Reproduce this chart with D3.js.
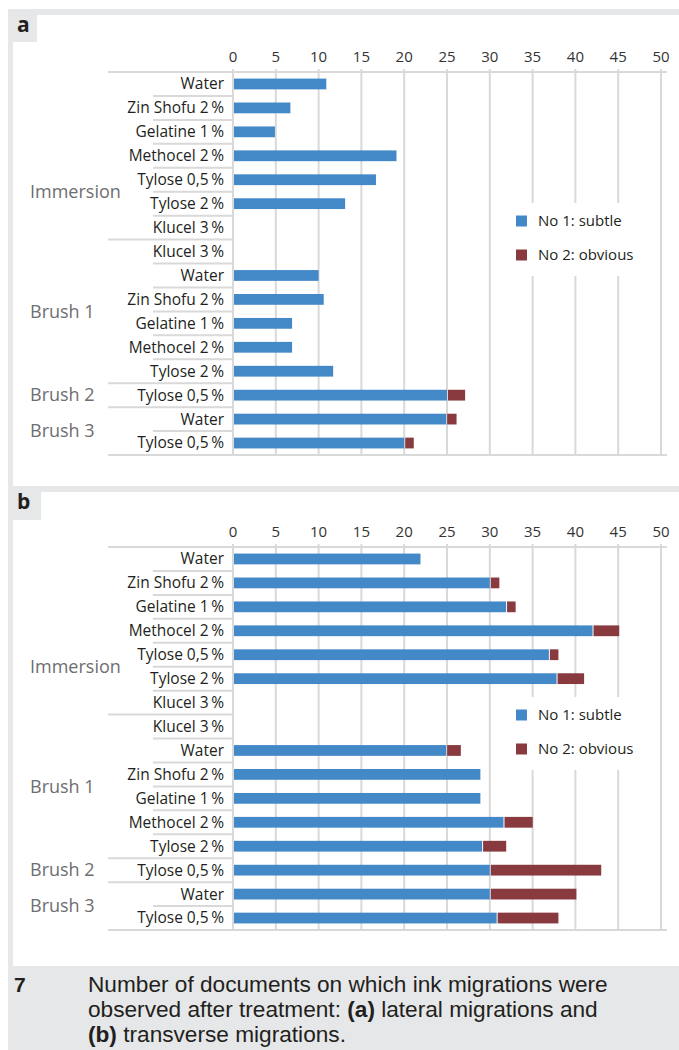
<!DOCTYPE html>
<html>
<head>
<meta charset="utf-8">
<script src="https://cdn.jsdelivr.net/npm/d3@7"></script>
<style>
  body { margin: 0; background: #fff; }
  svg { display: block; }
  text { font-family: "Open Sans", "Noto Sans", sans-serif; }
</style>
</head>
<body>
<div id="chart"></div>
<script>
const categories = [
  "Water", "Zin Shofu 2\u2009%", "Gelatine 1\u2009%", "Methocel 2\u2009%", "Tylose 0,5\u2009%",
  "Tylose 2\u2009%", "Klucel 3\u2009%",
  "Klucel 3\u2009%", "Water", "Zin Shofu 2\u2009%", "Gelatine 1\u2009%", "Methocel 2\u2009%", "Tylose 2\u2009%",
  "Tylose 0,5\u2009%",
  "Water", "Tylose 0,5\u2009%"
];
const groupNames = ["Immersion", "Brush 1", "Brush 2", "Brush 3"];
const groupSizes = [7, 6, 1, 2];
// row position of each group label (in rows from the top)
const groupLabelRows = [5, 10, 13.5, 15];

const seriesNames = ["No 1: subtle", "No 2: obvious"];

// (a) lateral migrations
const lateralSubtle  = [10.9, 6.7, 4.9, 19.1, 16.7, 13.1, 0, 0, 10, 10.6, 6.9, 6.9, 11.7, 25, 24.9, 20];
const lateralObvious = [0, 0, 0, 0, 0, 0, 0, 0, 0, 0, 0, 0, 0, 2, 1.1, 1];

// (b) transverse migrations
const transverseSubtle  = [21.9, 30, 31.9, 42, 36.9, 37.8, 0, 0, 24.9, 28.9, 28.9, 31.6, 29.1, 30, 30, 30.8];
const transverseObvious = [0, 1, 1, 3, 1, 3.1, 0, 0, 1.6, 0, 0, 3.3, 2.7, 12.9, 10, 7.1];

const xTicks = d3.range(0, 55, 5);

const W = 679, H = 1050;
const colors = ["#4389c8", "#893a3f"];
const gridColor = "#d9d9d9";
const frameGray = "#e6e7e8";

const svg = d3.select("#chart").append("svg")
  .attr("width", W).attr("height", H);

// frame
svg.append("rect").attr("x", 8).attr("y", 9).attr("width", W - 8).attr("height", H - 9)
  .attr("fill", frameGray);
svg.append("rect").attr("x", 13).attr("y", 15).attr("width", W - 13).attr("height", 471)
  .attr("fill", "#fff");
svg.append("rect").attr("x", 13).attr("y", 492).attr("width", W - 13).attr("height", 474)
  .attr("fill", "#fff");

const x = d3.scaleLinear().domain([0, 50]).range([233, 661]);

// group boundaries (row indexes where a new group starts)
const groupStarts = d3.cumsum([0].concat(groupSizes.slice(0, -1)));

function drawPanel(opts) {
  const { top, subtle, obvious, letter, tab, legendTop } = opts;
  const y = d3.scaleBand()
    .domain(d3.range(categories.length))
    .range([top, top + 383])
    .padding(0);
  const step = y.step();
  const bottom = top + 383;
  const g = svg.append("g");

  // letter tab
  g.append("rect").attr("x", 13).attr("y", tab.y).attr("width", tab.w).attr("height", tab.h)
    .attr("fill", frameGray);
  g.append("text").attr("x", 17).attr("y", tab.y + 17)
    .attr("font-size", 21).attr("font-weight", 700).attr("fill", "#231f20")
    .text(letter);

  // vertical gridlines
  g.append("g").selectAll("line").data(xTicks).join("line")
    .attr("x1", d => x(d)).attr("x2", d => x(d))
    .attr("y1", top - 3).attr("y2", bottom)
    .attr("stroke", gridColor).attr("stroke-width", 2);

  // tick labels
  g.append("g").selectAll("text").data(xTicks).join("text")
    .attr("x", d => x(d)).attr("y", top - 10)
    .attr("text-anchor", "middle")
    .attr("font-size", 15).attr("fill", "#333")
    .text(d => d);

  // top and bottom lines
  g.append("g").selectAll("line").data([top, bottom]).join("line")
    .attr("x1", 108).attr("x2", 667)
    .attr("y1", d => d).attr("y2", d => d)
    .attr("stroke", gridColor).attr("stroke-width", 2);

  // row separators in the label column
  const seps = d3.range(1, categories.length);
  g.append("g").selectAll("line").data(seps).join("line")
    .attr("x1", d => groupStarts.includes(d) ? 108 : 153).attr("x2", 232)
    .attr("y1", d => y(d)).attr("y2", d => y(d))
    .attr("stroke", gridColor).attr("stroke-width", 2);

  // category labels
  g.append("g").selectAll("text").data(categories).join("text")
    .attr("x", 224).attr("y", (d, i) => y(i) + step / 2)
    .attr("dy", "0.35em")
    .attr("text-anchor", "end")
    .attr("font-size", 15.5).attr("fill", "#231f20")
    .text(d => d);

  // group labels
  g.append("g").selectAll("text").data(groupNames).join("text")
    .attr("x", 30).attr("y", (d, i) => top + groupLabelRows[i] * step)
    .attr("dy", "0.35em")
    .attr("font-size", 18).attr("fill", "#6d6e71")
    .text(d => d);

  // stacked bars
  const rows = categories.map((c, i) => ({ i, s: subtle[i], o: obvious[i] }));
  const stack = d3.stack().keys(["s", "o"])(rows);
  const barH = step * 0.45;
  g.append("g").selectAll("g").data(stack).join("g")
    .attr("fill", (d, k) => colors[k])
    .selectAll("rect").data(d => d).join("rect")
    .attr("x", d => x(d[0]) + 1)
    .attr("width", d => Math.max(0, x(d[1]) - x(d[0]) - (d[0] === 0 ? 1 : 0)))
    .attr("y", d => y(d.data.i) + (step - barH) / 2)
    .attr("height", barH);

  // legend
  const lg = g.append("g");
  lg.append("rect").attr("x", 500).attr("y", legendTop).attr("width", 150).attr("height", 73)
    .attr("fill", "#fff");
  const items = lg.selectAll("g").data(seriesNames).join("g")
    .attr("transform", (d, k) => `translate(516,${legendTop + 18 + k * 34})`);
  items.append("rect").attr("x", 0).attr("y", -5.5).attr("width", 11).attr("height", 11)
    .attr("fill", (d, k) => colors[k]);
  items.append("text").attr("x", 22).attr("dy", "0.35em")
    .attr("font-size", 15).attr("fill", "#231f20")
    .text(d => d);
}

drawPanel({ top: 72, subtle: lateralSubtle, obvious: lateralObvious, letter: "a",
  tab: { y: 15, w: 24, h: 27 }, legendTop: 203 });
drawPanel({ top: 547, subtle: transverseSubtle, obvious: transverseObvious, letter: "b",
  tab: { y: 492, w: 28, h: 28 }, legendTop: 697 });

// caption
const cap = svg.append("g").attr("fill", "#231f20")
  .style("font-family", "'Liberation Sans', Arimo, sans-serif");
cap.append("text").attr("x", 14).attr("y", 992).attr("font-size", 21).attr("font-weight", 700)
  .style("font-family", "inherit")
  .text("7");
const capLines = [
  [["Number of documents on which ink migrations were", 400]],
  [["observed after treatment: ", 400], ["(a)", 700], [" lateral migrations and", 400]],
  [["(b)", 700], [" transverse migrations.", 400]]
];
const capText = capLines.map((line, li) => {
  const t = cap.append("text").attr("x", 88).attr("y", 992 + li * 25).attr("font-size", 20)
    .style("font-family", "inherit");
  line.forEach(([s, w]) => t.append("tspan").attr("font-weight", w).text(s));
  return t;
});
// fit the caption to the width of the original first line
const fs = 20 * 520 / capText[0].node().getComputedTextLength();
capText.forEach(t => t.attr("font-size", fs));
</script>
</body>
</html>
